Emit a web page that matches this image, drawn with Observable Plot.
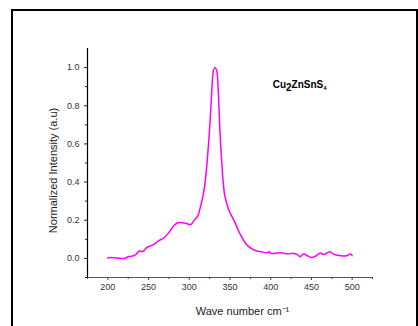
<!DOCTYPE html>
<html><head><meta charset="utf-8">
<script src="https://cdn.jsdelivr.net/npm/d3@7"></script>
<script src="https://cdn.jsdelivr.net/npm/@observablehq/plot@0.6"></script>
<style>
html,body{margin:0;padding:0;background:#fff;overflow:hidden;width:418px;height:326px}
#frame{position:absolute;left:11px;top:9px;width:403px;height:400px;border:2px solid #000}
#chart{position:absolute;left:0;top:0}
</style></head><body>
<div id="frame"></div><div id="chart"></div>
<script>
const waveNumber = [200,203,211,221,225.6,231.7,235,239,241.6,244,248,256,262.6,268.7,275,281,286,291.4,296,301.6,305.7,310.6,314,317.3,320.1,323,325.1,327.2,328.4,329.6,331.6,333.7,335.3,336.5,337.8,339.5,341.5,343.6,348.9,355,362.4,371.5,381.8,388,396,398,400.3,408.5,412.6,421,427,433.2,436.1,440.2,444.7,449.6,453.7,461.1,465.2,472.2,477.6,486.6,492.8,498,500];
const intensity = [0.002,0.005,0.002,0.0,0.010,0.014,0.023,0.040,0.035,0.040,0.058,0.072,0.093,0.107,0.136,0.171,0.187,0.187,0.184,0.177,0.198,0.224,0.276,0.338,0.425,0.565,0.687,0.844,0.932,0.984,1.0,0.984,0.897,0.792,0.652,0.530,0.407,0.329,0.250,0.198,0.128,0.067,0.040,0.035,0.030,0.035,0.026,0.028,0.030,0.023,0.027,0.019,0.009,0.023,0.015,0.005,0.009,0.028,0.020,0.035,0.022,0.014,0.014,0.023,0.014];
const xMajorTicks = [200,250,300,350,400,450,500];
const xMinorTicks = [175,225,275,325,375,425,475,525];
const yMajorTicks = [0,0.2,0.4,0.6,0.8,1.0];
const yMinorTicks = [-0.1,0.1,0.3,0.5,0.7,0.9];
const xDomain = [175,525];
const yDomain = [-0.1,1.1];
const xLabel = "Wave number cm⁻¹";
const yLabel = "Normalized Intensity (a.u)";
const sampleParts = ["Cu","2","ZnSnS","4"];
const sampleX = [402.4];
const sampleY = [0.91];

const plot = Plot.plot({
  width: 418, height: 326,
  marginLeft: 87, marginRight: 46, marginTop: 48, marginBottom: 49,
  style: {fontFamily: "'Liberation Sans', Arial, sans-serif", fontSize: "9px", color: "#333", background: "transparent", overflow: "visible"},
  x: {domain: xDomain, label: null},
  y: {domain: yDomain, label: null},
  marks: [
    Plot.ruleX([xDomain[0]], {y1: yDomain[0], y2: yDomain[1], stroke: "#000", strokeWidth: 1.2}),
    Plot.ruleY([yDomain[0]], {x1: xDomain[0], x2: xDomain[1], stroke: "#555", strokeWidth: 1.2}),
    Plot.axisX(xMajorTicks, {anchor: "bottom", tickSize: 3, tickPadding: 3, tickFormat: d => String(d), stroke: "#444", fill: "#333"}),
    Plot.axisX(xMinorTicks, {anchor: "bottom", tickSize: 2, tickFormat: () => "", stroke: "#444"}),
    Plot.axisY(yMajorTicks, {anchor: "left", tickSize: 3, tickPadding: 5, tickFormat: d3.format(".1f"), stroke: "#222", fill: "#333"}),
    Plot.axisY(yMinorTicks, {anchor: "left", tickSize: 2, tickFormat: () => "", stroke: "#222"}),
    Plot.line(intensity, {x: waveNumber, y: intensity, stroke: "#ff00ff", strokeWidth: 1.5, curve: "catmull-rom"}),
    Plot.text([yLabel], {frameAnchor: "left", rotate: -90, dx: -34, dy: 7.5, textAnchor: "middle", lineAnchor: "middle", fontSize: 11, fill: "#222"}),
    Plot.text([xLabel], {frameAnchor: "bottom", dx: 12.5, dy: 34, textAnchor: "middle", lineAnchor: "middle", fontSize: 11, fill: "#222"}),
    Plot.text([sampleParts.join("")], {x: sampleX, y: sampleY, textAnchor: "start", lineAnchor: "middle", fontSize: 10, fontWeight: "bold", fill: "#000", className: "sample"})
  ]
});
document.getElementById("chart").appendChild(plot);

// format the formula with subscripts
d3.select(plot).selectAll("g.sample text").each(function() {
  const t = d3.select(this);
  t.text(null);
  t.append("tspan").text(sampleParts[0]);
  t.append("tspan").attr("dy", "3").text(sampleParts[1]);
  t.append("tspan").attr("dy", "-3").text(sampleParts[2]);
  t.append("tspan").attr("dy", "2").attr("font-size", "6").text(sampleParts[3]);
});
</script>
</body></html>
